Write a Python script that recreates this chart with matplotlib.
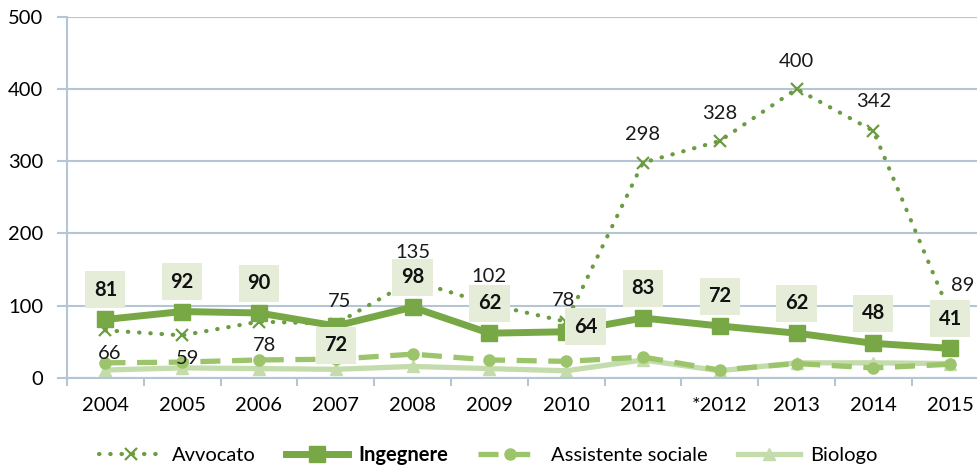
import matplotlib
matplotlib.use("Agg")
import matplotlib.pyplot as plt
import numpy as np

plt.rcParams['font.family'] = ['Lato', 'DejaVu Sans']

years = ['2004', '2005', '2006', '2007', '2008', '2009', '2010',
         '2011', '*2012', '2013', '2014', '2015']
avvocato = [66, 59, 78, 75, 135, 102, 78, 298, 328, 400, 342, 89]
ingegnere = [81, 92, 90, 72, 98, 62, 64, 83, 72, 62, 48, 41]
assistente = [21, 22, 25, 26, 33, 25, 23, 29, 11, 20, 14, 19]
biologo = [11, 14, 13, 12, 16, 13, 10, 25, 10, 21, 21, 20]

c_avv = '#6c9c42'
c_ing = '#78a845'
c_ass = '#9cc46b'
c_bio = '#c4dcab'
c_grid = '#b5c5d3'
c_box = '#e5edd8'

x = np.arange(len(years))

fig = plt.figure(figsize=(9.77, 4.67), dpi=100)
ax = fig.add_axes([67 / 977, 1 - 378 / 467, 910 / 977, (378 - 16.7) / 467])

l_bio, = ax.plot(x, biologo, color=c_bio, lw=3.8, marker='^', ms=8, zorder=2)
l_ass, = ax.plot(x, assistente, color=c_ass, lw=3.8, ls=(0, (3.8, 2.2)),
                 marker='o', ms=8, zorder=3)
l_avv, = ax.plot(x, avvocato, color=c_avv, lw=3.0, ls=(0, (0.1, 2.6)),
                 dash_capstyle='round', marker='x', ms=8, mew=1.6, zorder=4)
l_ing, = ax.plot(x, ingegnere, color=c_ing, lw=5, marker='s', ms=12, zorder=5)

# label offsets in points
avv_off = [(3, -17), (4, -17), (4, -17), (3, 16), (0, 20), (0, 20), (-2, 15),
           (0, 20), (0, 20), (0, 20), (0, 21), (9, 20)]
ing_off = [(0, 21.5)] * 12
ing_off[3] = (0, -14)
ing_off[6] = (14, 3.5)

for i, v in enumerate(avvocato):
    ax.annotate(str(v), (x[i], v), xytext=avv_off[i], textcoords='offset points',
                ha='center', va='center', fontsize=14.5, color='#1a1a1a', zorder=7)
for i, v in enumerate(ingegnere):
    ax.annotate(str(v), (x[i], v), xytext=ing_off[i], textcoords='offset points',
                ha='center', va='center', fontsize=14.5, fontweight='bold',
                color='#111111', zorder=8,
                bbox=dict(boxstyle='square,pad=0.42', fc=c_box, ec='none'))

ax.set_xlim(-0.5, 11.35)
ax.set_ylim(0, 500)
ax.set_yticks(range(0, 501, 100))
ax.set_xticks(x)
ax.set_xticklabels(years)
ax.set_xticks(np.arange(-0.5, 11.5, 1), minor=True)
ax.yaxis.grid(True, color=c_grid, lw=1.5)
ax.set_axisbelow(True)
for s in ('top', 'right'):
    ax.spines[s].set_visible(False)
for s in ('left', 'bottom'):
    ax.spines[s].set_color(c_grid)
    ax.spines[s].set_linewidth(1.5)
ax.tick_params(axis='x', which='major', length=0, pad=14, labelsize=14.5)
ax.tick_params(axis='x', which='minor', length=6, width=1.5, color=c_grid,
               direction='out')
ax.tick_params(axis='y', length=7, width=1.5, color=c_grid, pad=10, labelsize=14.5)

leg = fig.legend([l_avv, l_ing, l_ass, l_bio],
                 ['Avvocato', 'Ingegnere', 'Assistente sociale', 'Biologo'],
                 loc='center', bbox_to_anchor=(0.5, 1 - 455 / 467), ncol=4,
                 frameon=False, fontsize=14.5, handlelength=3.1, columnspacing=1.5,
                 handletextpad=0.5)
leg.get_texts()[1].set_fontweight('bold')

fig.savefig('out.png', dpi=100, facecolor='white')
